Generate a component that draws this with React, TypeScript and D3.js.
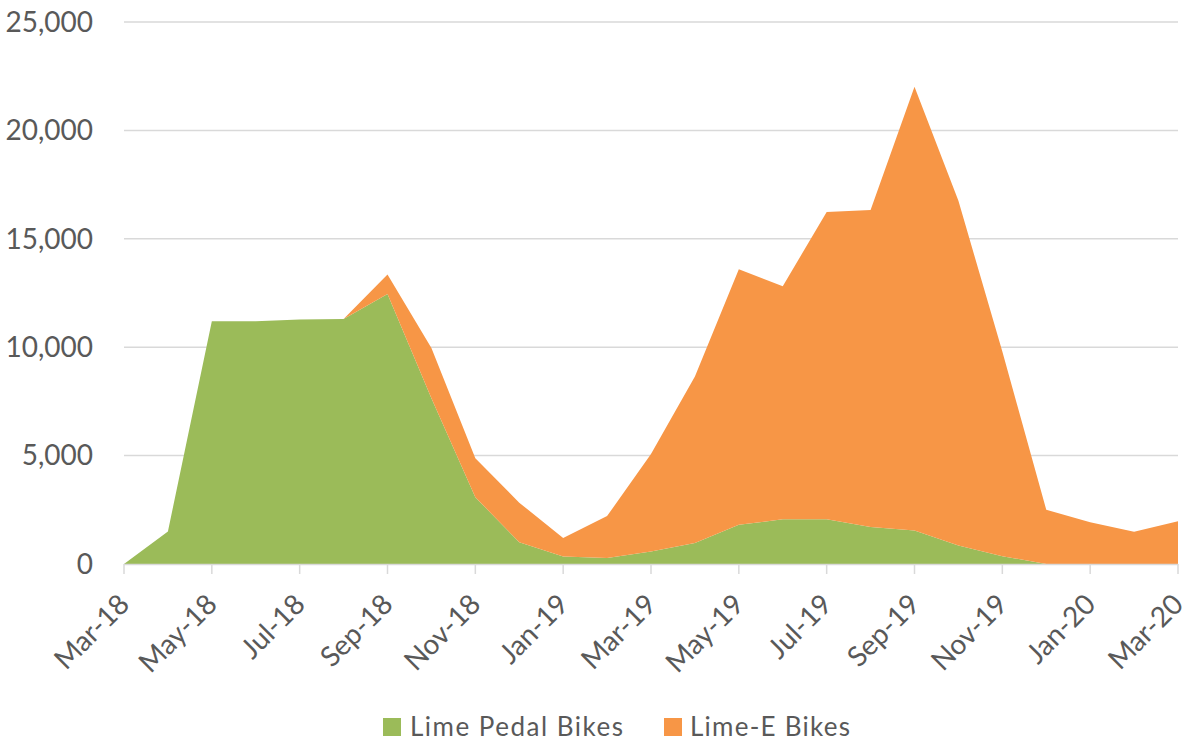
import React from "react";
import * as d3 from "d3";

const months = [
  "Mar-18","Apr-18","May-18","Jun-18","Jul-18","Aug-18","Sep-18","Oct-18","Nov-18","Dec-18",
  "Jan-19","Feb-19","Mar-19","Apr-19","May-19","Jun-19","Jul-19","Aug-19","Sep-19","Oct-19",
  "Nov-19","Dec-19","Jan-20","Feb-20","Mar-20",
];
const pedalBikes = [
  0, 1500, 11200, 11200, 11280, 11300, 12450, 7650, 3080, 1000,
  350, 280, 580, 970, 1810, 2060, 2060, 1710, 1550, 850,
  360, 0, 0, 0, 0,
];
const eBikes = [
  0, 0, 0, 0, 0, 0, 900, 2310, 1800, 1830,
  850, 1930, 4490, 7680, 11790, 10750, 14180, 14620, 20460, 15900,
  9440, 2500, 1920, 1490, 1970,
];
const seriesNames = ["Lime Pedal Bikes", "Lime-E Bikes"];
const seriesColors = ["#9BBB59", "#F79646"];
const yTicks = [0, 5000, 10000, 15000, 20000, 25000];

const W = 1188, H = 742;
const left = 124, right = 1178, top = 22, bottom = 564;
const font = "Lato, 'Open Sans', sans-serif";
const textColor = "#595959";

export default function App() {
  const rows = months.map((m, i) => ({ i, pedal: pedalBikes[i], ebike: eBikes[i] }));
  const stack = d3.stack<any>().keys(["pedal", "ebike"]);
  const layers = stack(rows);
  const x = d3.scaleLinear().domain([0, months.length - 1]).range([left, right]);
  const y = d3.scaleLinear().domain([0, 25000]).range([bottom, top]);
  const area = d3
    .area<any>()
    .x((d) => x(d.data.i))
    .y0((d) => y(d[0]))
    .y1((d) => y(d[1]));
  const fmt = d3.format(",");
  const labelIdx = months.map((_, i) => i).filter((i) => i % 2 === 0);

  return (
    <div style={{ position: "absolute", left: 0, top: 0, width: W, height: H, background: "#fff" }}>
      <svg width={W} height={H} style={{ display: "block" }}>
        <rect width={W} height={H} fill="#fff" />
        {yTicks.map((t) => (
          <g key={t}>
            {t > 0 && (
              <line x1={left} x2={right} y1={y(t)} y2={y(t)} stroke="#D9D9D9" strokeWidth={1.5} />
            )}
            <text
              x={93}
              y={y(t)}
              dy="0.35em"
              textAnchor="end"
              fontFamily={font}
              fontSize={28}
              fill={textColor}
            >
              {fmt(t)}
            </text>
          </g>
        ))}
        {layers.map((layer, k) => (
          <path key={k} d={area(layer) || ""} fill={seriesColors[k]} />
        ))}
        <line x1={left} x2={right} y1={bottom + 0.5} y2={bottom + 0.5} stroke="#D9D9D9" strokeWidth={1.5} />
        {labelIdx.map((i) => (
          <g key={i}>
            <line x1={x(i)} x2={x(i)} y1={bottom} y2={bottom + 10} stroke="#D9D9D9" strokeWidth={1.5} />
            <text
              transform={`translate(${x(i) + 7},${bottom + 42}) rotate(-45)`}
              textAnchor="end"
              fontFamily={font}
              fontSize={28}
              fill={textColor}
            >
              {months[i]}
            </text>
          </g>
        ))}
        <g>
          <rect x={383} y={718} width={18} height={18} fill={seriesColors[0]} />
          <text x={410} y={736} fontFamily={font} fontSize={26} fill={textColor} textLength={213} lengthAdjust="spacing">
            {seriesNames[0]}
          </text>
          <rect x={664} y={718} width={18} height={18} fill={seriesColors[1]} />
          <text x={690} y={736} fontFamily={font} fontSize={26} fill={textColor} textLength={160} lengthAdjust="spacing">
            {seriesNames[1]}
          </text>
        </g>
      </svg>
    </div>
  );
}
